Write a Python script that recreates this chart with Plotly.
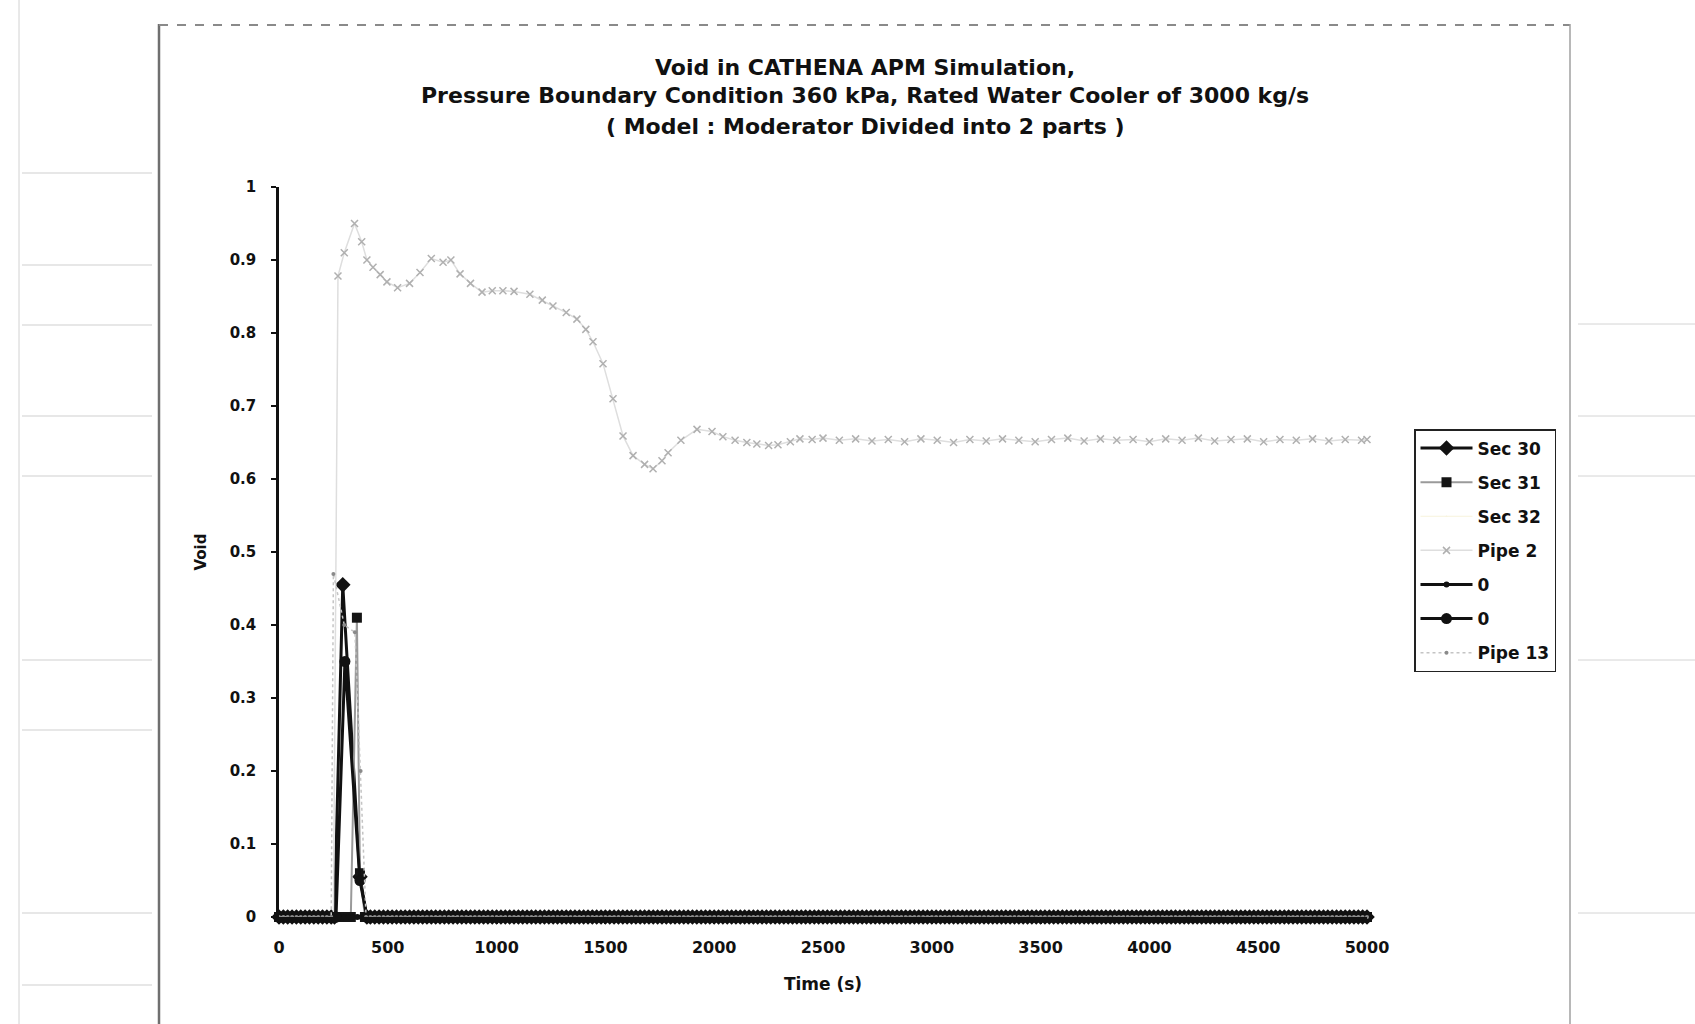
import plotly.graph_objects as go

# ---------------------------------------------------------------------------
# Data: void fraction vs. time (s) in the CATHENA APM run
# ---------------------------------------------------------------------------
# output times used for the series that sit on zero most of the run
SAMPLE_T = list(range(0, 5001, 20))

# transient excursions (time, void) for the sections that briefly boil
SEC30_T = [255, 293, 372, 404]
SEC30_V = [0.0, 0.455, 0.055, 0.0]

SEC31_T = [330, 358, 372, 395]
SEC31_V = [0.0, 0.41, 0.06, 0.0]

SEC32_T = []
SEC32_V = []

ZERO_A_T = []
ZERO_A_V = []

ZERO_B_T = [262, 303, 372, 404]
ZERO_B_V = [0.0, 0.35, 0.05, 0.0]

PIPE13_T = [240, 250, 300, 349, 375, 400]
PIPE13_V = [0.0, 0.47, 0.40, 0.39, 0.20, 0.0]

# Pipe 2 void history
PIPE2_T = [0, 100, 200, 250, 271, 300, 347, 380, 404, 432, 465, 496, 545, 600,
           648, 700, 754, 790, 832, 880, 933, 980, 1029, 1080, 1153, 1210,
           1259, 1320, 1369, 1410, 1443, 1489, 1535, 1581, 1627, 1680, 1719,
           1760, 1788, 1847, 1921, 1990, 2040, 2096, 2150, 2196, 2250, 2293,
           2350, 2394, 2450, 2500, 2575, 2650, 2725, 2800, 2875, 2950, 3025,
           3100, 3175, 3250, 3325, 3400, 3475, 3550, 3625, 3700, 3775, 3850,
           3925, 4000, 4075, 4150, 4225, 4300, 4375, 4450, 4525, 4600, 4675,
           4750, 4825, 4900, 4975, 5000]
PIPE2_V = [0.0, 0.0, 0.0, 0.0, 0.878, 0.91, 0.950, 0.925, 0.900, 0.890,
           0.880, 0.870, 0.862, 0.868, 0.883, 0.902, 0.897, 0.900, 0.881,
           0.868, 0.856, 0.858, 0.858, 0.857, 0.853, 0.845, 0.837, 0.828,
           0.819, 0.805, 0.788, 0.758, 0.710, 0.659, 0.632, 0.620, 0.614,
           0.625, 0.636, 0.653, 0.668, 0.665, 0.658, 0.653, 0.650, 0.648,
           0.646, 0.647, 0.651, 0.655, 0.654, 0.656, 0.653, 0.655, 0.652,
           0.654, 0.651, 0.655, 0.653, 0.650, 0.654, 0.652, 0.655, 0.653,
           0.651, 0.654, 0.656, 0.652, 0.655, 0.653, 0.654, 0.651, 0.655,
           0.653, 0.656, 0.652, 0.654, 0.655, 0.651, 0.654, 0.653, 0.655,
           0.652, 0.654, 0.653, 0.654]

X_TICKS = [0, 500, 1000, 1500, 2000, 2500, 3000, 3500, 4000, 4500, 5000]
Y_TICKS = [0, 0.1, 0.2, 0.3, 0.4, 0.5, 0.6, 0.7, 0.8, 0.9, 1]

TITLE_LINES = [
    "Void in CATHENA APM Simulation,",
    "Pressure Boundary Condition 360 kPa, Rated Water Cooler of 3000 kg/s",
    "( Model : Moderator Divided into 2 parts )",
]


def on_zero_baseline(ts, vs):
    """Merge a short excursion into the zero-valued output record."""
    if ts:
        lo, hi = min(ts), max(ts)
        pts = [(t, 0.0) for t in SAMPLE_T if t < lo or t > hi]
    else:
        pts = [(t, 0.0) for t in SAMPLE_T]
    pts += list(zip(ts, vs))
    pts.sort()
    return [p[0] for p in pts], [p[1] for p in pts]


# ---------------------------------------------------------------------------
# Figure geometry (pixels)
# ---------------------------------------------------------------------------
W, H = 1695, 1024
ML, MR, MT, MB = 279, 328, 187, 107
PW, PH = W - ML - MR, H - MT - MB


def px(xp):
    return (xp - ML) / PW


def py(yp):
    return (H - MB - yp) / PH


FONT = "DejaVu Sans"

fig = go.Figure()

series = [
    ("Sec 30", SEC30_T, SEC30_V,
     dict(color="#111111", width=3), dict(symbol="diamond", size=12, color="#111111")),
    ("Sec 31", SEC31_T, SEC31_V,
     dict(color="#9a9a9a", width=2), dict(symbol="square", size=10, color="#151515")),
    ("Sec 32", SEC32_T, SEC32_V,
     dict(color="#f7f3dc", width=1), dict(symbol="triangle-up", size=1, color="#f7f3dc")),
]

for name, ts, vs, line, marker in series:
    t, v = on_zero_baseline(ts, vs)
    fig.add_trace(go.Scatter(x=t, y=v, name=name, mode="lines+markers",
                             line=line, marker=marker, legendgroup=name,
                             cliponaxis=False))

# Pipe 2: light line with x markers
fig.add_trace(go.Scatter(
    x=PIPE2_T, y=PIPE2_V, name="Pipe 2", mode="lines+markers",
    line=dict(color="#dedede", width=1.5),
    marker=dict(symbol="x-thin", size=7, color="#b0b0b0",
                line=dict(width=1.5, color="#b0b0b0")),
    legendgroup="Pipe 2", cliponaxis=False))

for name, ts, vs, msize, grp in [("0", ZERO_A_T, ZERO_A_V, 6, "zA"),
                                 ("0", ZERO_B_T, ZERO_B_V, 11, "zB")]:
    t, v = on_zero_baseline(ts, vs)
    fig.add_trace(go.Scatter(x=t, y=v, name=name, mode="lines+markers",
                             line=dict(color="#111111", width=3),
                             marker=dict(symbol="circle", size=msize, color="#111111"),
                             legendgroup=grp, cliponaxis=False))

t13, v13 = on_zero_baseline(PIPE13_T, PIPE13_V)
fig.add_trace(go.Scatter(
    x=t13, y=v13, name="Pipe 13", mode="lines+markers",
    line=dict(color="#c4c4c4", width=1.5, dash="dot"),
    marker=dict(symbol="circle", size=4, color="#8a8a8a"),
    legendgroup="Pipe 13", cliponaxis=False))

# title lines, centred over the chart area
for txt, yp in zip(TITLE_LINES, [67, 96, 126]):
    fig.add_annotation(text=txt, xref="paper", yref="paper",
                       x=px(865), y=py(yp), xanchor="center", yanchor="middle",
                       showarrow=False,
                       font=dict(family=FONT, size=22, color="#111111", weight="bold"))

# chart-area border and faint ruled lines of the surrounding page
shapes = [
    dict(type="line", xref="paper", yref="paper", x0=px(159), x1=px(159),
         y0=py(24), y1=py(1030), line=dict(color="#6f6f6f", width=2.5)),
    dict(type="line", xref="paper", yref="paper", x0=px(159), x1=px(1570),
         y0=py(25), y1=py(25), line=dict(color="#8a8a8a", width=2, dash="dash")),
    dict(type="line", xref="paper", yref="paper", x0=px(1570), x1=px(1570),
         y0=py(24), y1=py(1030), line=dict(color="#a0a0a0", width=1.5)),
    dict(type="line", xref="paper", yref="paper", x0=px(19), x1=px(19),
         y0=py(0), y1=py(1024), line=dict(color="#d2d2d2", width=1)),
]
for yp in [173, 265, 325, 416, 476, 660, 730, 913, 985]:
    shapes.append(dict(type="line", xref="paper", yref="paper", x0=px(22), x1=px(152),
                       y0=py(yp), y1=py(yp), line=dict(color="#cfcfcf", width=1)))
for yp in [324, 416, 476, 660, 913]:
    shapes.append(dict(type="line", xref="paper", yref="paper", x0=px(1578), x1=px(1695),
                       y0=py(yp), y1=py(yp), line=dict(color="#d4d4d4", width=1)))

fig.update_layout(
    width=W, height=H,
    margin=dict(l=ML, r=MR, t=MT, b=MB, pad=0),
    paper_bgcolor="white", plot_bgcolor="white",
    font=dict(family=FONT, color="#111111"),
    shapes=shapes,
    showlegend=True,
    legend=dict(x=px(1414), y=py(429), xanchor="left", yanchor="top",
                bgcolor="white", bordercolor="#222222", borderwidth=1.5,
                font=dict(family=FONT, size=17, color="#111111", weight="bold"),
                tracegroupgap=9, itemwidth=52),
)

fig.update_xaxes(
    range=[0, 5000], tickvals=X_TICKS, showgrid=False, zeroline=False,
    showline=True, linecolor="#111111", linewidth=2,
    ticks="outside", ticklen=5, tickwidth=1.5, tickcolor="#111111",
    ticklabelstandoff=10,
    tickfont=dict(family=FONT, size=16, color="#111111", weight="bold"),
    title=dict(text="Time (s)", standoff=22,
               font=dict(family=FONT, size=17, color="#111111", weight="bold")),
)
fig.update_yaxes(
    range=[0, 1], tickvals=Y_TICKS, showgrid=False, zeroline=False,
    showline=True, linecolor="#111111", linewidth=2.5,
    ticks="outside", ticklen=5, tickwidth=1.5, tickcolor="#111111",
    ticklabelstandoff=12,
    tickfont=dict(family=FONT, size=15, color="#111111", weight="bold"),
    title=dict(text="Void", standoff=20,
               font=dict(family=FONT, size=15, color="#111111", weight="bold")),
)

fig.write_html("out.html")
